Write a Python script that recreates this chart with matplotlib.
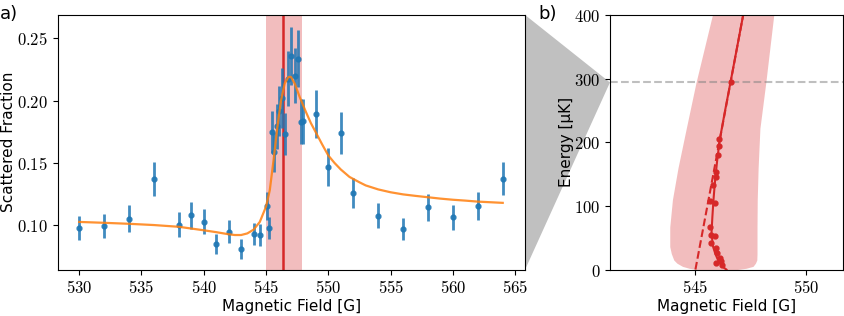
import matplotlib
matplotlib.use('Agg')
import matplotlib.pyplot as plt
from matplotlib.patches import Polygon
from matplotlib.ticker import FormatStrFormatter

plt.rcParams['mathtext.fontset'] = 'cm'
plt.rcParams['font.family'] = 'DejaVu Sans'

# panel a: measured scattered fraction
field = [530, 532, 534, 536, 538, 539, 540, 541, 542, 543, 544, 544.5,
         545.05, 545.25, 545.45, 545.65, 545.85, 546.05, 546.3, 546.55,
         546.8, 547.0, 547.3, 547.55, 547.8, 548.0, 549, 550, 551, 552,
         554, 556, 558, 560, 562, 564]
frac = [0.098, 0.0995, 0.1054, 0.137, 0.1005, 0.108, 0.1027, 0.085, 0.095,
        0.0813, 0.093, 0.0922, 0.1155, 0.0978, 0.175, 0.159, 0.1795, 0.1915,
        0.202, 0.1733, 0.2175, 0.2357, 0.220, 0.2338, 0.183, 0.1836, 0.1894,
        0.1468, 0.174, 0.1262, 0.1075, 0.097, 0.1145, 0.1064, 0.1155, 0.1375]
frac_err = [0.0096, 0.0095, 0.0107, 0.0137, 0.0100, 0.0110, 0.0100, 0.0080,
            0.0090, 0.0080, 0.0090, 0.0090, 0.0110, 0.0090, 0.0170, 0.0160,
            0.0180, 0.0200, 0.0240, 0.0170, 0.0220, 0.0230, 0.0220, 0.0230,
            0.0180, 0.0180, 0.0190, 0.0150, 0.0170, 0.0120, 0.0100, 0.0090,
            0.0110, 0.0100, 0.0110, 0.0130]

# fit curve
fit_x = [530, 532, 534, 536, 538, 540, 541, 542, 542.5, 543, 543.5, 544,
         544.5, 545, 545.3, 545.6, 545.9, 546.2, 546.5, 546.8, 547.0, 547.3,
         547.7, 548.2, 548.6, 549, 549.5, 550, 550.5, 551, 551.7, 552.5, 553,
         554, 555, 556, 557, 558, 559, 560, 561, 562, 563, 564]
fit_y = [0.1027, 0.1020, 0.1012, 0.1002, 0.0988, 0.0960, 0.0945, 0.0928,
         0.0922, 0.0922, 0.0935, 0.0965, 0.1027, 0.1150, 0.1280, 0.1520,
         0.1780, 0.2000, 0.2138, 0.2190, 0.2190, 0.2138, 0.2030, 0.1910,
         0.1820, 0.1745, 0.1650, 0.1560, 0.1500, 0.1448, 0.1388, 0.1345,
         0.1320, 0.1288, 0.1265, 0.1248, 0.1236, 0.1225, 0.1214, 0.1205,
         0.1198, 0.1190, 0.1185, 0.1180]

res_center = 546.4
res_low, res_high = 544.98, 547.85

# panel b: resonance position vs energy
band_E = [0, 2, 5, 10, 15, 25, 36, 67, 110, 160, 222, 293, 400]
band_left = [545.1, 544.75, 544.45, 544.2, 544.06, 543.95, 543.88, 543.88,
             544.0, 544.25, 544.62, 545.05, 545.79]
band_right = [546.9, 547.3, 547.61, 547.72, 547.78, 547.79, 547.79, 547.79,
              547.8, 547.84, 547.92, 548.18, 548.54]

line_E = [0, 5, 15, 25, 36, 57, 83, 110, 136, 170, 204, 250, 294, 400]
line_B = [546.42, 546.22, 546.04, 545.92, 545.82, 545.75, 545.79, 545.84,
          545.9, 546.0, 546.12, 546.36, 546.6, 547.17]
dash_E = [0, 400]
dash_B = [545.03, 547.17]

pts_E = [7, 10, 13.6, 17.8, 25.7, 33.5, 41, 53, 54.5, 67.5, 104, 107, 133,
         146, 154, 180, 194, 205, 294]
pts_B = [546.24, 545.97, 546.19, 546.12, 546.01, 545.94, 545.75, 545.90,
         545.75, 545.70, 545.90, 545.70, 545.82, 545.94, 545.97, 546.06,
         546.07, 546.09, 546.63]
pts_err = [0.08] * len(pts_E)
E_mark = 294

fig = plt.figure(figsize=(8.44, 3.16), dpi=100)
ax1 = fig.add_axes([0.0687, 0.147, 0.5535, 0.8055])
ax2 = fig.add_axes([0.7227, 0.147, 0.2763, 0.8055])

ax1.axvspan(res_low, res_high, color='tab:red', alpha=0.3, lw=0)
ax1.axvline(res_center, color='tab:red', lw=1.8)
ax1.errorbar(field, frac, yerr=frac_err, fmt='o', ms=3.5, color='tab:blue',
             elinewidth=2, alpha=0.85, zorder=3)
ax1.plot(fit_x, fit_y, color='tab:orange', lw=1.6, alpha=0.85, zorder=4)
ax1.set_xlim(528.3, 565.8)
ax1.set_ylim(0.0645, 0.2687)
ax1.set_xticks([530, 535, 540, 545, 550, 555, 560, 565])
ax1.set_yticks([0.10, 0.15, 0.20, 0.25])
ax1.xaxis.set_major_formatter(FormatStrFormatter(r'$%d$'))
ax1.yaxis.set_major_formatter(FormatStrFormatter(r'$%.2f$'))
ax1.set_xlabel('Magnetic Field [G]', fontsize=11)
ax1.set_ylabel('Scattered Fraction', fontsize=11)
ax1.xaxis.set_label_coords(0.5, -0.114)
ax1.yaxis.set_label_coords(-0.09, 0.5)

ax2.fill_betweenx(band_E, band_left, band_right, color='tab:red', alpha=0.3, lw=0)
ax2.plot(line_B, line_E, color='tab:red', lw=1.5)
ax2.plot(dash_B, dash_E, color='tab:red', lw=1.5, ls='--')
ax2.errorbar(pts_B, pts_E, xerr=pts_err, fmt='o', ms=3.5, color='tab:red',
             elinewidth=1.5)
ax2.axhline(E_mark, color='gray', ls='--', alpha=0.5, lw=1.5)
ax2.set_xlim(541.2, 551.65)
ax2.set_ylim(0, 400)
ax2.set_xticks([545, 550])
ax2.set_yticks([0, 100, 200, 300, 400])
ax2.xaxis.set_major_formatter(FormatStrFormatter(r'$%d$'))
ax2.yaxis.set_major_formatter(FormatStrFormatter(r'$%d$'))
ax2.set_xlabel('Magnetic Field [G]', fontsize=11)
ax2.set_ylabel('Energy [μK]', fontsize=11)
ax2.xaxis.set_label_coords(0.5, -0.114)
ax2.yaxis.set_label_coords(-0.155, 0.5)

for ax in (ax1, ax2):
    ax.tick_params(labelsize=12)

# grey zoom wedge joining the two panels
inv = fig.transFigure.inverted()
p_top = inv.transform(ax1.transAxes.transform((1, 1)))
p_bot = inv.transform(ax1.transAxes.transform((1, 0)))
p_tip = inv.transform(ax2.transData.transform((541.2, E_mark)))
fig.patches.append(Polygon([p_top, p_tip, p_bot], closed=True,
                           transform=fig.transFigure, facecolor='#c0c0c0',
                           edgecolor='none', zorder=-1))

fig.text(0.0, 0.985, 'a)', fontsize=13, va='top')
fig.text(0.638, 0.985, 'b)', fontsize=13, va='top')

fig.savefig('out.png', dpi=100)
